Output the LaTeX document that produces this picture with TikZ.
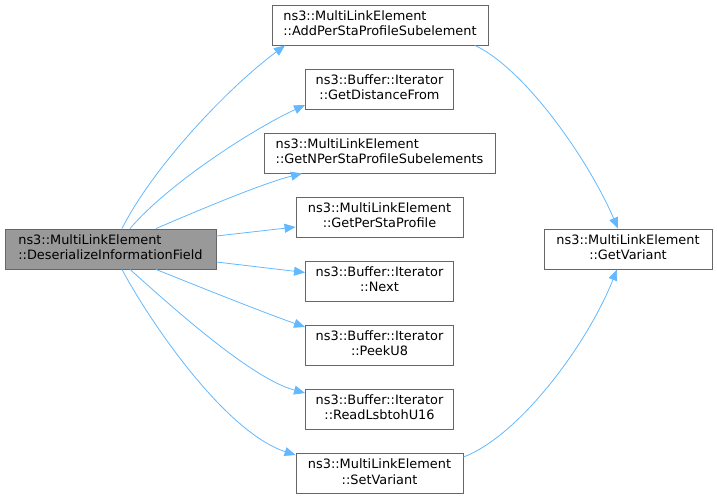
\documentclass[tikz,border=0pt]{standalone}
\usepackage{fontspec}
\setmainfont{DejaVu Sans}
\usetikzlibrary{arrows.meta}
\definecolor{edgeblue}{HTML}{63B8FF}
\definecolor{boxborder}{HTML}{666666}
\definecolor{mainfill}{HTML}{999999}
\newcommand{\twolines}[2]{\begin{tabular}{@{}c@{}}\multicolumn{1}{@{}l@{}}{#1}\\#2\end{tabular}}
\tikzset{
  fnbox/.style={draw=boxborder, line width=0.9pt, fill=white, inner sep=0pt, minimum height=40pt,
    font=\fontsize{12.9}{15.7}\selectfont},
  mainbox/.style={fnbox, fill=mainfill},
  calledge/.style={draw=edgeblue, line width=0.8pt, -{Triangle[length=11pt,width=9pt]}}
}
\begin{document}
\begin{tikzpicture}[x=1pt,y=-1pt]
\useasboundingbox (0,0) rectangle (717,499);
\node[mainbox, minimum width=211pt] (main) at (110.5,249) {\twolines{ns3::MultiLinkElement}{::DeserializeInformationField}};
\node[fnbox, minimum width=216pt] (add) at (380,25) {\twolines{ns3::MultiLinkElement}{::AddPerStaProfileSubelement}};
\node[fnbox, minimum width=148pt] (dist) at (379.5,89) {\twolines{ns3::Buffer::Iterator}{::GetDistanceFrom}};
\node[fnbox, minimum width=231pt] (getn) at (379.5,153) {\twolines{ns3::MultiLinkElement}{::GetNPerStaProfileSubelements}};
\node[fnbox, minimum width=167pt] (getsta) at (379.5,217) {\twolines{ns3::MultiLinkElement}{::GetPerStaProfile}};
\node[fnbox, minimum width=148pt] (next) at (379.5,281) {\twolines{ns3::Buffer::Iterator}{::Next}};
\node[fnbox, minimum width=148pt] (peek) at (379.5,345) {\twolines{ns3::Buffer::Iterator}{::PeekU8}};
\node[fnbox, minimum width=148pt] (read) at (379.5,409) {\twolines{ns3::Buffer::Iterator}{::ReadLsbtohU16}};
\node[fnbox, minimum width=167pt] (setv) at (379.5,473) {\twolines{ns3::MultiLinkElement}{::SetVariant}};
\node[fnbox, minimum width=168pt] (getv) at (628,249) {\twolines{ns3::MultiLinkElement}{::GetVariant}};

\draw[calledge] ([xshift=11.5pt]main.north) .. controls (152,169) and (225,90) .. ([xshift=-95pt]add.south);
\draw[calledge] ([xshift=19.5pt]main.north) .. controls (170,182) and (255,128) .. ([yshift=-16pt]dist.west);
\draw[calledge] ([xshift=45.5pt]main.north) .. controls (190,214) and (260,184) .. ([xshift=-77.5pt]getn.south);
\draw[calledge] ([yshift=13pt]main.east) -- ([yshift=-10pt]getsta.west);
\draw[calledge] ([yshift=-13pt]main.east) -- ([yshift=8.5pt]next.west);
\draw[calledge] ([xshift=45.5pt]main.south) .. controls (195,285) and (262,312) .. ([yshift=18pt]peek.west);
\draw[calledge] ([xshift=19.5pt]main.south) .. controls (170,305) and (250,378) .. ([yshift=16pt]read.west);
\draw[calledge] ([xshift=11.5pt]main.south) .. controls (150,322) and (225,432) .. ([yshift=18pt]setv.west);
\draw[calledge] ([xshift=95pt]add.south) .. controls (525,69) and (588,159) .. ([xshift=-10pt]getv.north);
\draw[calledge] ([yshift=16pt]setv.east) .. controls (519,436) and (587,345) .. ([xshift=-11pt]getv.south);
\end{tikzpicture}
\end{document}
